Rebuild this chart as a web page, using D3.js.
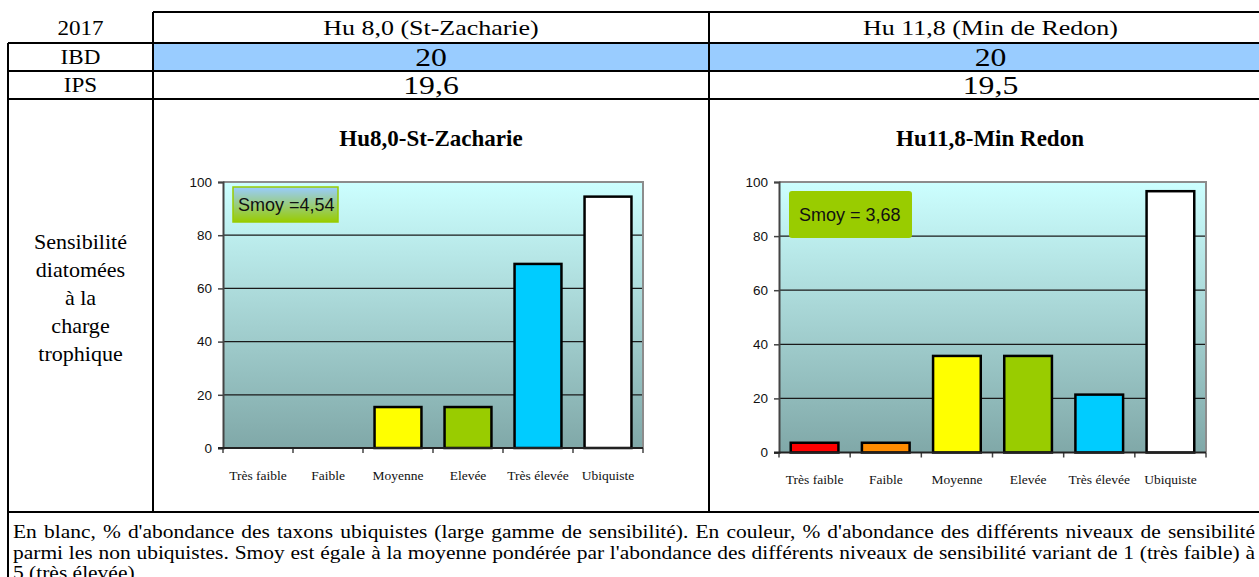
<!DOCTYPE html>
<html>
<head>
<meta charset="utf-8">
<script src="https://cdn.jsdelivr.net/npm/d3@7"></script>
<style>
  html, body { margin: 0; padding: 0; background: #fff; }
  svg { display: block; }
</style>
</head>
<body>
<svg id="page" width="1259" height="577"></svg>
<script>
// ---- data ----
const categories = ["Très faible", "Faible", "Moyenne", "Elevée", "Très élevée", "Ubiquiste"];
const zachValues = [0, 0, 15.4, 15.4, 69.2, 94.5];
const redonValues = [3.6, 3.6, 35.7, 35.7, 21.4, 96.6];
const barColors = ["#FF0000", "#FF8C00", "#FFFF00", "#99CC00", "#00CCFF", "#FFFFFF"];
const yTicks = [0, 20, 40, 60, 80, 100];

const headerRow = ["2017", "Hu 8,0 (St-Zacharie)", "Hu 11,8 (Min de Redon)"];
const ibdRow = ["IBD", "20", "20"];
const ipsRow = ["IPS", "19,6", "19,5"];
const chartTitles = ["Hu8,0-St-Zacharie", "Hu11,8-Min Redon"];
const smoyLabels = ["Smoy =4,54", "Smoy = 3,68"];
const rowLabel = ["Sensibilité", "diatomées", "à la", "charge", "trophique"];
const captionLines = [
  "En blanc, % d'abondance des taxons ubiquistes (large gamme de sensibilité). En couleur, % d'abondance des différents niveaux de sensibilité",
  "parmi les non ubiquistes. Smoy est égale à la moyenne pondérée par l'abondance des différents niveaux de sensibilité variant de 1 (très faible) à",
  "5 (très élevée)"
];

// ---- layout ----
const svg = d3.select("#page");
const serif = "'Liberation Serif','Times New Roman',serif";
const sans = "'Liberation Sans',Arial,sans-serif";

const colX = [8, 153, 709, 1272];
const rowY = [12, 43, 71, 99, 512, 620];

// blue IBD row
svg.append("rect")
  .attr("x", colX[1]).attr("y", rowY[1])
  .attr("width", colX[3] - colX[1]).attr("height", rowY[2] - rowY[1])
  .attr("fill", "#99CCFF");

// ---- table grid ----
const grid = svg.append("g").attr("stroke", "#000").attr("stroke-width", 2).attr("fill", "none");
// top border (the corner cell stays open)
grid.append("line").attr("x1", colX[1]).attr("x2", colX[3]).attr("y1", rowY[0]).attr("y2", rowY[0]);
// horizontal rules
[1, 2, 3, 4].forEach(i => {
  grid.append("line").attr("x1", colX[0]).attr("x2", colX[3]).attr("y1", rowY[i]).attr("y2", rowY[i]);
});
// left border from the IBD row down
grid.append("line").attr("x1", colX[0]).attr("x2", colX[0]).attr("y1", rowY[1]).attr("y2", rowY[5]);
// column dividers
grid.append("line").attr("x1", colX[1]).attr("x2", colX[1]).attr("y1", rowY[0]).attr("y2", rowY[4]);
grid.append("line").attr("x1", colX[2]).attr("x2", colX[2]).attr("y1", rowY[0]).attr("y2", rowY[4]);
grid.append("line").attr("x1", colX[3]).attr("x2", colX[3]).attr("y1", rowY[0]).attr("y2", rowY[5]);

function cellCenter(c) { return (colX[c] + colX[c + 1]) / 2; }

// table cell text: serif face, slightly widened like the document's typesetting
function cellText(t, cx, cy, size, sx) {
  svg.append("text")
    .attr("transform", `translate(${cx},${cy}) scale(${sx},1)`)
    .attr("dy", "0.34em")
    .attr("text-anchor", "middle")
    .attr("font-family", serif)
    .attr("font-size", size)
    .attr("fill", "#000")
    .text(t);
}
function rowText(values, rIdx, sizes, stretch) {
  const yc = (rowY[rIdx] + rowY[rIdx + 1]) / 2;
  values.forEach((t, c) => cellText(t, cellCenter(c), yc, sizes[c], stretch[c]));
}
rowText(headerRow, 0, [21, 22, 22], [1.1, 1.18, 1.18]);
rowText(ibdRow, 1, [21, 26, 26], [1.1, 1.22, 1.22]);
rowText(ipsRow, 2, [21, 26, 26], [1.1, 1.22, 1.22]);

// row label of the chart row
rowLabel.forEach((t, i) => {
  svg.append("text")
    .attr("transform", `translate(${cellCenter(0)},${249 + i * 28}) scale(1.05,1)`)
    .attr("text-anchor", "middle")
    .attr("font-family", serif)
    .attr("font-size", 21)
    .attr("fill", "#000")
    .text(t);
});

// ---- charts ----
const defs = svg.append("defs");
const bg = defs.append("linearGradient").attr("id", "plotBg")
  .attr("x1", 0).attr("y1", 0).attr("x2", 0).attr("y2", 1);
bg.append("stop").attr("offset", "0%").attr("stop-color", "#CCFFFF");
bg.append("stop").attr("offset", "100%").attr("stop-color", "#80A8A8");

const boxGrad = defs.append("linearGradient").attr("id", "smoyBg")
  .attr("x1", 0).attr("y1", 0).attr("x2", 0).attr("y2", 1);
boxGrad.append("stop").attr("offset", "0%").attr("stop-color", "#99CCFF");
boxGrad.append("stop").attr("offset", "100%").attr("stop-color", "#99CC00");

const charts = [
  { values: zachValues, title: chartTitles[0], titleX: 431, left: 223, right: 643, top: 182, bottom: 448,
    smoy: smoyLabels[0], box: { x: 233, y: 187, w: 105, h: 35, rx: 0, fill: "url(#smoyBg)", stroke: "#99CC00" },
    textX: 238, textY: 211 },
  { values: redonValues, title: chartTitles[1], titleX: 990, left: 779, right: 1206, top: 182, bottom: 452.5,
    smoy: smoyLabels[1], box: { x: 789, y: 191, w: 123, h: 47, rx: 3, fill: "#99CC00", stroke: "none" },
    textX: 799, textY: 221 }
];

charts.forEach(ch => {
  const g = svg.append("g");
  const x = d3.scaleBand().domain(categories).range([ch.left, ch.right])
    .paddingInner(0.33).paddingOuter(0.165);
  const y = d3.scaleLinear().domain([0, 100]).range([ch.bottom, ch.top]);

  // title
  g.append("text")
    .attr("x", ch.titleX).attr("y", 146)
    .attr("text-anchor", "middle")
    .attr("font-family", serif).attr("font-weight", "bold").attr("font-size", 23)
    .attr("fill", "#000")
    .text(ch.title);

  // plot background
  g.append("rect")
    .attr("x", ch.left).attr("y", ch.top)
    .attr("width", ch.right - ch.left).attr("height", ch.bottom - ch.top)
    .attr("fill", "url(#plotBg)");

  // gridlines
  g.append("g").selectAll("line")
    .data(yTicks.filter(v => v > 0 && v < 100))
    .join("line")
    .attr("x1", ch.left).attr("x2", ch.right)
    .attr("y1", d => y(d)).attr("y2", d => y(d))
    .attr("stroke", "#1a1a1a").attr("stroke-width", 1.2);

  // frame (top and right)
  g.append("path")
    .attr("d", `M${ch.left},${ch.top}H${ch.right}V${ch.bottom}`)
    .attr("fill", "none").attr("stroke", "#8c8c8c").attr("stroke-width", 2);

  // bars
  g.append("g").selectAll("rect")
    .data(categories.map((c, i) => ({ c, v: ch.values[i], col: barColors[i] })).filter(d => d.v > 0))
    .join("rect")
    .attr("x", d => x(d.c))
    .attr("y", d => y(d.v))
    .attr("width", x.bandwidth())
    .attr("height", d => y(0) - y(d.v))
    .attr("fill", d => d.col)
    .attr("stroke", "#000").attr("stroke-width", 2.5);

  // y axis
  const ya = g.append("g")
    .attr("transform", `translate(${ch.left},0)`)
    .call(d3.axisLeft(y).tickValues(yTicks).tickSize(5).tickPadding(6).tickFormat(d3.format("d")));
  ya.select(".domain").attr("stroke", "#444").attr("stroke-width", 2);
  ya.selectAll(".tick line").attr("stroke", "#444").attr("stroke-width", 1.5);
  ya.selectAll(".tick text")
    .attr("font-family", sans).attr("font-size", 13.5).attr("fill", "#111");

  // x axis: labels centred on the bands, ticks on band edges
  const xa = g.append("g")
    .attr("transform", `translate(0,${ch.bottom})`)
    .call(d3.axisBottom(x).tickSize(0).tickPadding(22));
  xa.select(".domain").remove();
  xa.selectAll(".tick text")
    .attr("font-family", serif).attr("font-size", 13.5).attr("fill", "#111");
  const edges = d3.range(categories.length + 1).map(i => ch.left + i * x.step());
  g.append("g").selectAll("line").data(edges).join("line")
    .attr("x1", d => d).attr("x2", d => d)
    .attr("y1", ch.bottom).attr("y2", ch.bottom + 5)
    .attr("stroke", "#444").attr("stroke-width", 1.5);
  g.append("line")
    .attr("x1", ch.left - 5).attr("x2", ch.right)
    .attr("y1", ch.bottom).attr("y2", ch.bottom)
    .attr("stroke", "#222").attr("stroke-width", 2);

  // Smoy box
  g.append("rect")
    .attr("x", ch.box.x).attr("y", ch.box.y)
    .attr("width", ch.box.w).attr("height", ch.box.h)
    .attr("rx", ch.box.rx)
    .attr("fill", ch.box.fill)
    .attr("stroke", ch.box.stroke).attr("stroke-width", 1.5);
  g.append("text")
    .attr("x", ch.textX).attr("y", ch.textY)
    .attr("font-family", sans).attr("font-size", 18).attr("fill", "#111")
    .text(ch.smoy);
});

// ---- caption, justified between the table borders ----
const capLeft = 13, capRight = 1255, capSize = 19, capStretch = 1.13;
captionLines.forEach((line, i) => {
  const yb = 538 + i * 20.5;
  const words = line.split(" ");
  const t = svg.append("text")
    .attr("transform", `translate(${capLeft},${yb}) scale(${capStretch},1)`)
    .attr("font-family", serif).attr("font-size", capSize).attr("fill", "#000");
  const spans = words.map(w => t.append("tspan").text(w));
  if (i < captionLines.length - 1) {
    const widths = spans.map(s => s.node().getComputedTextLength());
    const avail = (capRight - capLeft) / capStretch;
    const gap = (avail - d3.sum(widths)) / (words.length - 1);
    let cx = 0;
    spans.forEach((s, k) => { s.attr("x", cx); cx += widths[k] + gap; });
  } else {
    t.attr("x", 0);
    spans.forEach((s, k) => { if (k > 0) s.text(" " + words[k]); });
  }
});
</script>
</body>
</html>
